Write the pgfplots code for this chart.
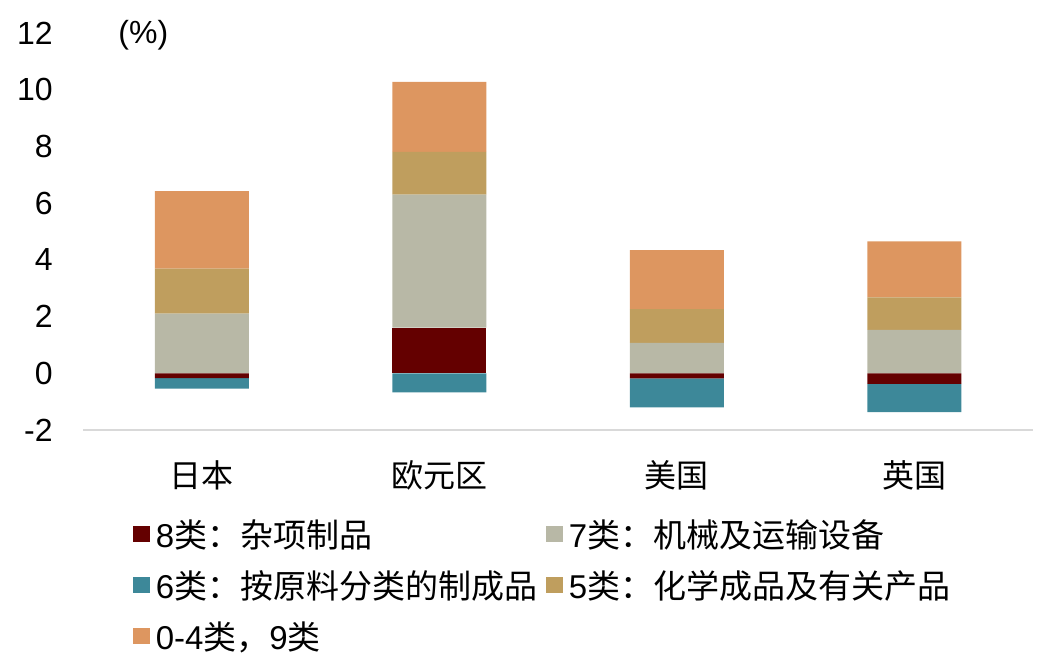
\documentclass[border=0pt]{standalone}
\usepackage{fontspec}
\setmainfont{Liberation Sans}
\newfontfamily\cjk{Noto Sans CJK SC}
\usepackage{pgfplots}
\pgfplotsset{compat=1.18}
\definecolor{c8}{RGB}{100,0,0}
\definecolor{c7}{RGB}{184,184,166}
\definecolor{c6}{RGB}{61,136,153}
\definecolor{c5}{RGB}{191,158,94}
\definecolor{c04}{RGB}{221,150,96}
\definecolor{axgray}{RGB}{217,217,217}
\pgfplotsset{
  common/.style={
    at={(0,0)}, anchor=south west,
    scale only axis, width=475pt, height=198.5pt,
    xmin=-0.5, xmax=3.5, ymin=-2, ymax=12, enlargelimits=false,
    ybar stacked, bar width=47pt,
    every axis plot/.append style={draw=none},
  },
  sq/.style={legend image code/.code={\fill[##1] (0pt,-1.5pt) rectangle (8.7pt,6.5pt); \path (11.4pt,0pt);}},
}
\begin{document}
\begin{tikzpicture}
\useasboundingbox (-41.5pt,-119.5pt) rectangle (490.5pt,215pt);
\begin{axis}[common, clip=false,
  axis x line*=bottom, axis y line*=left,
  y axis line style={draw=none},
  x axis line style={draw=axgray, line width=0.9pt},
  major tick length=0pt, tick style={draw=none},
  ticklabel style={font=\fontsize{16}{19}\selectfont},
  ytick={-2,0,2,4,6,8,10,12},
  yticklabels={-2,0,2,4,6,8,10,12},
  yticklabel style={anchor=east, inner sep=0pt, xshift=-15pt},
  xtick={0,1,2,3},
  xticklabels={{\cjk 日本},{\cjk 欧元区},{\cjk 美国},{\cjk 英国}},
  xticklabel style={anchor=center, inner sep=0pt, yshift=-22.5pt},
  legend columns=2,
  legend cell align=left,
  legend style={at={(0,0)}, anchor=north west, xshift=25pt, yshift=-46.25pt,
    draw=none, fill=none, inner sep=0pt, outer sep=0pt,
    row sep=9pt, column sep=0pt,
    font=\fontsize{16.5}{20}\selectfont,
    nodes={inner sep=0pt, text height=12.5pt, text depth=4pt},
    /tikz/every even column/.append style={column sep=4.4pt}},
]
\addplot[fill=c8, forget plot] coordinates {(0,0) (1,1.61) (2,0) (3,0)};
\addplot[fill=c7, forget plot] coordinates {(0,2.10) (1,4.69) (2,1.07) (3,1.53)};
\addplot[fill=c5, forget plot] coordinates {(0,1.59) (1,1.51) (2,1.19) (3,1.15)};
\addplot[fill=c04, forget plot] coordinates {(0,2.73) (1,2.47) (2,2.08) (3,1.97)};
\addlegendimage{sq, fill=c8}
\addlegendentry{8{\cjk 类：杂项制品}}
\addlegendimage{sq, fill=c7}
\addlegendentry{7{\cjk 类：机械及运输设备}}
\addlegendimage{sq, fill=c6}
\addlegendentry{6{\cjk 类：按原料分类的制成品}}
\addlegendimage{sq, fill=c5}
\addlegendentry{5{\cjk 类：化学成品及有关产品}}
\addlegendimage{sq, fill=c04}
\addlegendentry{0-4{\cjk 类，}9{\cjk 类}}
\node[anchor=west, inner sep=0pt, xshift=17.5pt, yshift=-1pt, font=\fontsize{16}{19}\selectfont] at (rel axis cs:0,1) {(\%)};
\end{axis}
\begin{axis}[common, hide axis]
\addplot[fill=c8] coordinates {(0,-0.17) (1,0) (2,-0.18) (3,-0.37)};
\addplot[fill=c6] coordinates {(0,-0.37) (1,-0.67) (2,-1.02) (3,-1.00)};
\end{axis}
\end{tikzpicture}
\end{document}
